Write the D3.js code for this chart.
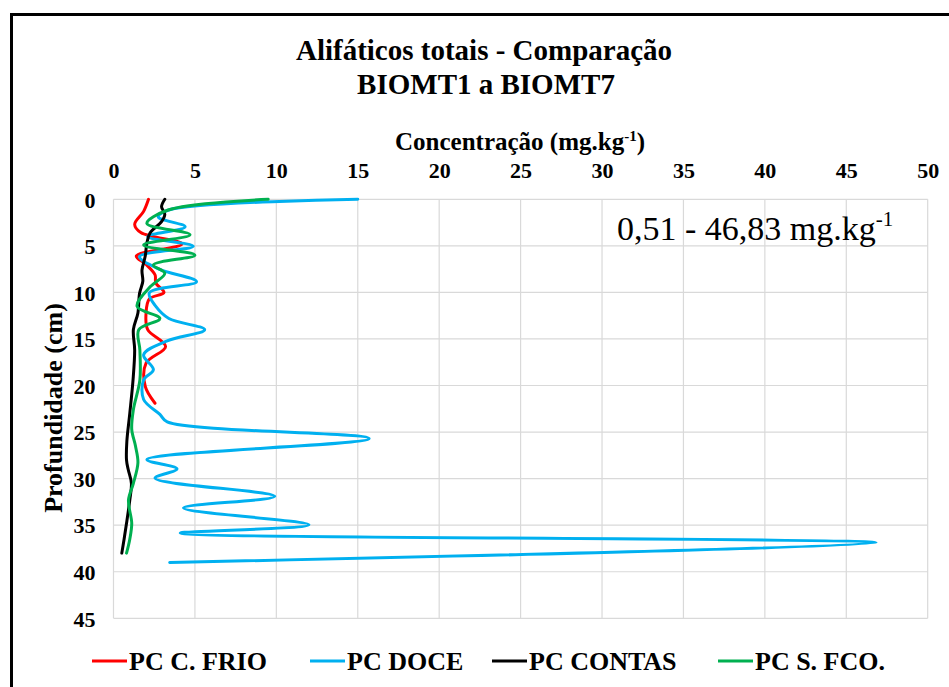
<!DOCTYPE html>
<html>
<head>
<meta charset="utf-8">
<script src="https://cdn.jsdelivr.net/npm/d3@7"></script>
<style>
  html, body { margin: 0; padding: 0; background: #fff; }
  svg { display: block; }
</style>
</head>
<body>
<svg id="chart" width="949" height="687"></svg>
<script>
// ---------- DATA ----------
const xTicks = [0, 5, 10, 15, 20, 25, 30, 35, 40, 45, 50];
const yTicks = [0, 5, 10, 15, 20, 25, 30, 35, 40, 45];
const seriesNames = ["PC C. FRIO", "PC DOCE", "PC CONTAS", "PC S. FCO."];
const seriesColors = ["#FF0000", "#00B0F0", "#000000", "#00B050"];

// [depth (cm), concentration (mg/kg)]
const pcCFrio = [
  [0, 2.15], [1.3, 1.85], [2.7, 1.3], [3.6, 1.7], [4.8, 4.2], [6.1, 1.4],
  [7.0, 2.0], [8.1, 2.55], [9.0, 2.6], [10.0, 3.1], [10.7, 2.2], [12.2, 2.0],
  [14.0, 2.1], [15.8, 3.2], [17.6, 2.0], [20.1, 1.95], [21.9, 2.55]
];
const pcDoce = [
  [0, 15.0], [1.15, 3.4], [1.9, 2.75], [2.95, 4.4], [4.0, 2.1], [5.05, 4.9],
  [6.15, 1.6], [7.5, 2.8], [8.85, 5.1], [10.05, 2.2], [11.5, 2.6], [12.8, 3.4],
  [14.0, 5.6], [15.2, 3.3], [16.7, 1.85], [18.3, 2.45], [19.4, 1.85], [21.5, 1.85],
  [23.1, 2.85], [23.9, 3.3], [25.7, 15.7], [27.95, 2.05], [28.95, 3.9], [29.95, 2.55],
  [31.9, 9.9], [33.15, 4.3], [34.95, 12.0], [35.85, 4.1], [36.9, 46.83], [39.0, 3.45]
];
const pcContas = [
  [0, 3.15], [0.8, 2.95], [1.6, 3.15], [2.4, 2.95], [3.6, 2.25], [4.7, 2.05],
  [6.1, 1.95], [7.6, 1.75], [8.8, 1.8], [10.1, 1.6], [12.2, 1.5], [14.0, 1.22],
  [16.2, 1.3], [19.4, 1.2], [23.0, 1.0], [26.0, 0.82], [28.0, 0.8], [29.0, 0.9],
  [30.5, 1.1], [32.3, 1.0], [34.8, 0.8], [36.5, 0.65], [38.0, 0.51]
];
const pcSFco = [
  [0, 9.5], [1.15, 3.35], [2.6, 2.05], [3.8, 4.7], [4.9, 1.85], [6.0, 5.0],
  [7.05, 2.45], [7.95, 3.15], [9.4, 2.25], [11.5, 1.45], [12.8, 2.85], [14.0, 1.55],
  [16.2, 1.62], [19.4, 1.62], [22.6, 1.22], [24.7, 1.12], [26.5, 1.35], [28.3, 1.5],
  [30.5, 1.22], [32.3, 0.92], [34.8, 1.12], [36.5, 1.0], [38.0, 0.8]
];
const allSeries = [pcCFrio, pcDoce, pcContas, pcSFco];

// ---------- LAYOUT ----------
const FONT = "'Liberation Serif', Tinos, 'Times New Roman', Times, 'DejaVu Serif', 'Noto Serif', serif";
const svg = d3.select("#chart").attr("font-family", FONT);
const plot = { left: 113.5, right: 927.7, top: 199.3, bottom: 618.3 };

const x = d3.scaleLinear().domain([0, 50]).range([plot.left, plot.right]);
const y = d3.scaleLinear().domain([0, 45]).range([plot.top, plot.bottom]);

svg.append("rect").attr("width", 949).attr("height", 687).attr("fill", "#fff");

// outer frame
svg.append("rect")
  .attr("x", 11.5).attr("y", 14.5).attr("width", 960).attr("height", 700)
  .attr("fill", "none").attr("stroke", "#000").attr("stroke-width", 3);

// gridlines
const grid = svg.append("g");
grid.selectAll("line.v").data(xTicks).join("line")
  .attr("x1", d => x(d)).attr("x2", d => x(d))
  .attr("y1", plot.top).attr("y2", plot.bottom)
  .attr("stroke", "#d9d9d9").attr("stroke-width", 1.2);
grid.selectAll("line.h").data(yTicks).join("line")
  .attr("y1", d => y(d)).attr("y2", d => y(d))
  .attr("x1", plot.left).attr("x2", plot.right)
  .attr("stroke", "#d9d9d9").attr("stroke-width", 1.2);

// axes (labels only, via d3 axes)
const xAxis = svg.append("g")
  .attr("transform", `translate(0,${plot.top - 28})`)
  .call(d3.axisTop(x).tickValues(xTicks).tickSize(0).tickPadding(0));
xAxis.attr("font-family", FONT);
xAxis.select(".domain").remove();
xAxis.selectAll("text")
  .attr("font-weight", "bold").attr("font-size", 22).attr("fill", "#000")
  .attr("dy", "0.3em");

const yAxis = svg.append("g")
  .attr("transform", `translate(${plot.left - 18},0)`)
  .call(d3.axisLeft(y).tickValues(yTicks).tickSize(0).tickPadding(0));
yAxis.attr("font-family", FONT);
yAxis.select(".domain").remove();
yAxis.selectAll("text")
  .attr("font-weight", "bold").attr("font-size", 22).attr("fill", "#000")
  .attr("dy", "0.35em");

// series
const line = d3.line()
  .x(d => x(d[1]))
  .y(d => y(d[0]))
  .curve(d3.curveCatmullRom.alpha(0.5));

svg.append("g").selectAll("path").data(allSeries).join("path")
  .attr("d", d => line(d))
  .attr("fill", "none")
  .attr("stroke", (d, i) => seriesColors[i])
  .attr("stroke-width", 3)
  .attr("stroke-linejoin", "round")
  .attr("stroke-linecap", "round");

// titles
svg.append("text").attr("x", 484).attr("y", 60).attr("text-anchor", "middle")
  .attr("font-weight", "bold").attr("font-size", 29)
  .text("Alifáticos totais - Comparação");
svg.append("text").attr("x", 486).attr("y", 94).attr("text-anchor", "middle")
  .attr("font-weight", "bold").attr("font-size", 29)
  .text("BIOMT1 a BIOMT7");

const xt = svg.append("text").attr("x", 520).attr("y", 150).attr("text-anchor", "middle")
  .attr("font-weight", "bold").attr("font-size", 25);
xt.append("tspan").text("Concentração  (mg.kg");
xt.append("tspan").attr("font-size", 15).attr("dy", -9).text("-1");
xt.append("tspan").attr("dy", 9).text(")");

svg.append("text")
  .attr("transform", `translate(62,408) rotate(-90)`)
  .attr("text-anchor", "middle")
  .attr("font-weight", "bold").attr("font-size", 26)
  .text("Profundidade (cm)");

// annotation
const ann = svg.append("text").attr("x", 617).attr("y", 240)
  .attr("font-size", 34);
ann.append("tspan").text("0,51 - 46,83 mg.kg");
ann.append("tspan").attr("font-size", 21).attr("dy", -14).text("-1");

// legend
const legendX = [92, 310, 492, 718];
const leg = svg.append("g");
seriesNames.forEach((name, i) => {
  leg.append("line")
    .attr("x1", legendX[i]).attr("x2", legendX[i] + 35)
    .attr("y1", 661).attr("y2", 661)
    .attr("stroke", seriesColors[i]).attr("stroke-width", 3);
  leg.append("text")
    .attr("x", legendX[i] + 37).attr("y", 670)
    .attr("font-weight", "bold").attr("font-size", 26)
    .text(name);
});
</script>
</body>
</html>
